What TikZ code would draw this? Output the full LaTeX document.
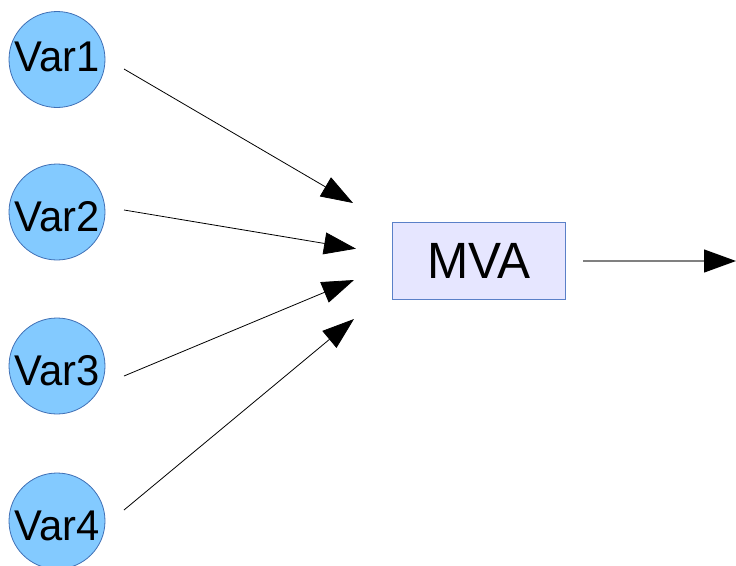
\documentclass[tikz,border=0pt]{standalone}
\usepackage{fontspec}
\setmainfont{Liberation Sans}
\usetikzlibrary{arrows.meta}
\definecolor{circfill}{HTML}{83CAFF}
\definecolor{circdraw}{HTML}{3F6FB5}
\definecolor{boxfill}{HTML}{E6E6FF}
\definecolor{boxdraw}{HTML}{5A80C8}
\definecolor{outline}{HTML}{808080}
\newcommand{\squeezetxt}[2]{\raisebox{#1}[\height][\depth]{\scalebox{0.97}[1]{#2}}}
\begin{document}
\begin{tikzpicture}[x=1pt,y=-1pt,
  varnode/.style={circle,draw=circdraw,fill=circfill,line width=0.8pt,minimum size=96pt,inner sep=0pt,
    font=\fontsize{43}{43}\selectfont},
  mvanode/.style={rectangle,draw=boxdraw,fill=boxfill,line width=0.9pt,minimum width=173pt,minimum height=77pt,inner sep=0pt,
    font=\fontsize{51}{51}\selectfont},
  inarrow/.style={draw=black,line width=0.8pt,-{Triangle[length=32pt,width=22pt]}},
  outarrow/.style={draw=outline,line width=1.2pt,-{Triangle[length=32pt,width=23pt,fill=black,color=black]}}]
\useasboundingbox (0,0) rectangle (736,565);
\node[varnode] (v1) at (57,59.5) {\squeezetxt{3pt}{Var1}};
\node[varnode] (v2) at (57,212) {\squeezetxt{-5pt}{Var2}};
\node[varnode] (v3) at (57,366) {\squeezetxt{-5pt}{Var3}};
\node[varnode] (v4) at (57,521) {\squeezetxt{-5pt}{Var4}};
\node[mvanode] (mva) at (479.2,260.7) {\squeezetxt{0pt}{MVA}};
\coordinate (s1) at (124,69);
\coordinate (t1) at (353,203);
\coordinate (s2) at (124,210);
\coordinate (t2) at (356,248.7);
\coordinate (s3) at (124,376);
\coordinate (t3) at (354,280);
\coordinate (s4) at (124,510);
\coordinate (t4) at (354,319);
\coordinate (so) at (583,261);
\coordinate (to) at (736,261);
\draw[inarrow] (s1) -- (t1);
\draw[inarrow] (s2) -- (t2);
\draw[inarrow] (s3) -- (t3);
\draw[inarrow] (s4) -- (t4);
\draw[outarrow] (so) -- (to);
\end{tikzpicture}
\end{document}
